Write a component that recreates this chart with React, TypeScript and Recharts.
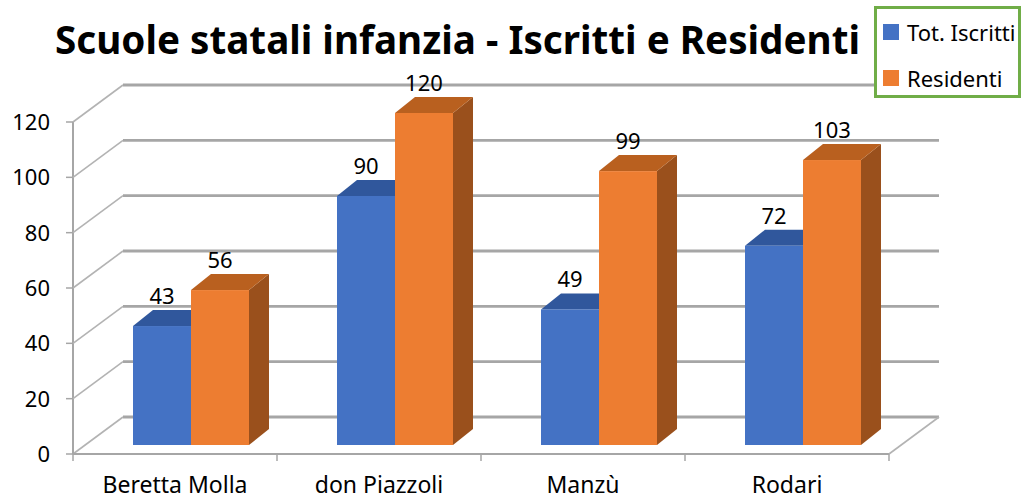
import { Bar, BarChart, CartesianGrid, LabelList, XAxis, YAxis } from "recharts";

const categories = ["Beretta Molla", "don Piazzoli", "Manzù", "Rodari"];
const totIscritti = [43, 90, 49, 72];
const residenti = [56, 120, 99, 103];
const yTicks = [0, 20, 40, 60, 80, 100, 120];

const SERIES = [
  { key: "iscritti", name: "Tot. Iscritti", front: "#4472c4", top: "#30579c", side: "#2b4e8c" },
  { key: "residenti", name: "Residenti", front: "#ed7d31", top: "#b9601f", side: "#9a501c" },
];

const W = 1023, H = 500;
const PLOT_LEFT = 89, PLOT_TOP = 113, PLOT_BOTTOM = 445;
// 3d offsets: front (axis) plane and back wall relative to the bar plane
const FX = -16, FY = 9, BX = 34, BY = -28;
// bar depth
const DX = 20, DY = -16;
const FONT = "'Noto Sans', sans-serif";
const GRID = "#a6a6a6";

const data = categories.map((name, i) => ({ name, iscritti: totIscritti[i], residenti: residenti[i] }));

const GridLine = (p: any) => {
  const { x1, x2, y1 } = p;
  const isFloor = Math.abs(y1 - PLOT_BOTTOM) < 1;
  const band = (x2 - x1) / categories.length;
  return <g key={`g-${y1}`}>
    <line x1={x1 + FX} y1={y1 + FY} x2={x1 + BX} y2={y1 + BY} stroke="#b3b3b3" strokeWidth={1.6} />
    <line x1={x1 + BX} y1={y1 + BY} x2={x2 + BX} y2={y1 + BY} stroke={GRID} strokeWidth={2.8} />
    {isFloor && <>
      <line x1={x1 + FX} y1={y1 + FY} x2={x2 + FX} y2={y1 + FY} stroke={GRID} strokeWidth={2} />
      <line x1={x2 + FX} y1={y1 + FY} x2={x2 + BX} y2={y1 + BY} stroke="#b3b3b3" strokeWidth={1.6} />
      <line x1={x1 + FX} y1={y1 + FY} x2={x1 + FX} y2={PLOT_TOP + FY} stroke={GRID} strokeWidth={2} />
      {categories.concat("").map((_, k) => <line key={k} x1={x1 + FX + k * band} y1={y1 + FY} x2={x1 + FX + k * band} y2={y1 + FY + 7} stroke={GRID} strokeWidth={1.5} />)}
    </>}
  </g>;
};

const YTick = ({ y, payload }: any) => {
  const ax = PLOT_LEFT + FX;
  return <g>
    <line x1={ax - 7} y1={y + FY} x2={ax} y2={y + FY} stroke={GRID} strokeWidth={1.5} />
    <text x={ax - 23} y={y + FY + 8} textAnchor="end" fontFamily={FONT} fontSize={22} fill="#000">{payload.value}</text>
  </g>;
};

const XTick = ({ x, payload }: any) =>
  <text x={x + FX} y={493} textAnchor="middle" fontFamily={FONT} fontSize={23} fill="#000">{payload.value}</text>;

const Box3D = (s: typeof SERIES[number]) => (p: any) => {
  const { x, y, width: w, height: h } = p;
  if (h <= 0) return <g />;
  return <g>
    <path d={`M${x + w},${y} L${x + w + DX},${y + DY} L${x + w + DX},${y + h + DY} L${x + w},${y + h} Z`} fill={s.side} />
    <path d={`M${x},${y} L${x + w},${y} L${x + w + DX},${y + DY} L${x + DX},${y + DY} Z`} fill={s.top} />
    <rect x={x} y={y} width={w} height={h} fill={s.front} />
  </g>;
};

const ValueLabel = (p: any) =>
  <text x={p.x + p.width / 2} y={p.y - 22} textAnchor="middle" fontFamily={FONT} fontSize={22} fill="#000">{p.value}</text>;

export default function App() {
  return <div style={{ position: "absolute", left: 0, top: 0, width: W, height: H, background: "#fff" }}>
    <BarChart width={W} height={H} data={data} margin={{ top: PLOT_TOP, right: 118, left: 0, bottom: 0 }}
      barCategoryGap={44} barGap={0}>
      <CartesianGrid vertical={false} horizontal={GridLine as any} />
      <YAxis width={PLOT_LEFT} domain={[0, 120]} ticks={yTicks} axisLine={false} tickLine={false} tick={YTick} interval={0} />
      <XAxis dataKey="name" height={H - PLOT_BOTTOM} axisLine={false} tickLine={false} tick={XTick} interval={0} />
      {SERIES.map(s =>
        <Bar key={s.key} dataKey={s.key} name={s.name} fill={s.front} shape={Box3D(s)} isAnimationActive={false}>
          <LabelList dataKey={s.key} content={ValueLabel} />
        </Bar>)}
    </BarChart>
    <svg width={W} height={70} style={{ position: "absolute", left: 0, top: 0 }}>
      <text x={55} y={54} fontFamily={FONT} fontWeight="bold" fontSize={39} textLength={805} lengthAdjust="spacingAndGlyphs" fill="#000">
        Scuole statali infanzia - Iscritti e Residenti
      </text>
    </svg>
    <div style={{ position: "absolute", left: 874, top: 6, width: 141, height: 86, border: "3px solid #70ad47", background: "#fff", fontFamily: FONT, fontSize: 22, color: "#000" }}>
      {SERIES.map((s, i) =>
        <div key={s.key} style={{ position: "absolute", left: 6, top: 12 + i * 46, display: "flex", alignItems: "center", whiteSpace: "nowrap" }}>
          <span style={{ width: 16, height: 16, background: s.front, display: "inline-block", marginRight: 8 }} />
          <span style={{ lineHeight: "22px" }}>{s.name}</span>
        </div>)}
    </div>
  </div>;
}
